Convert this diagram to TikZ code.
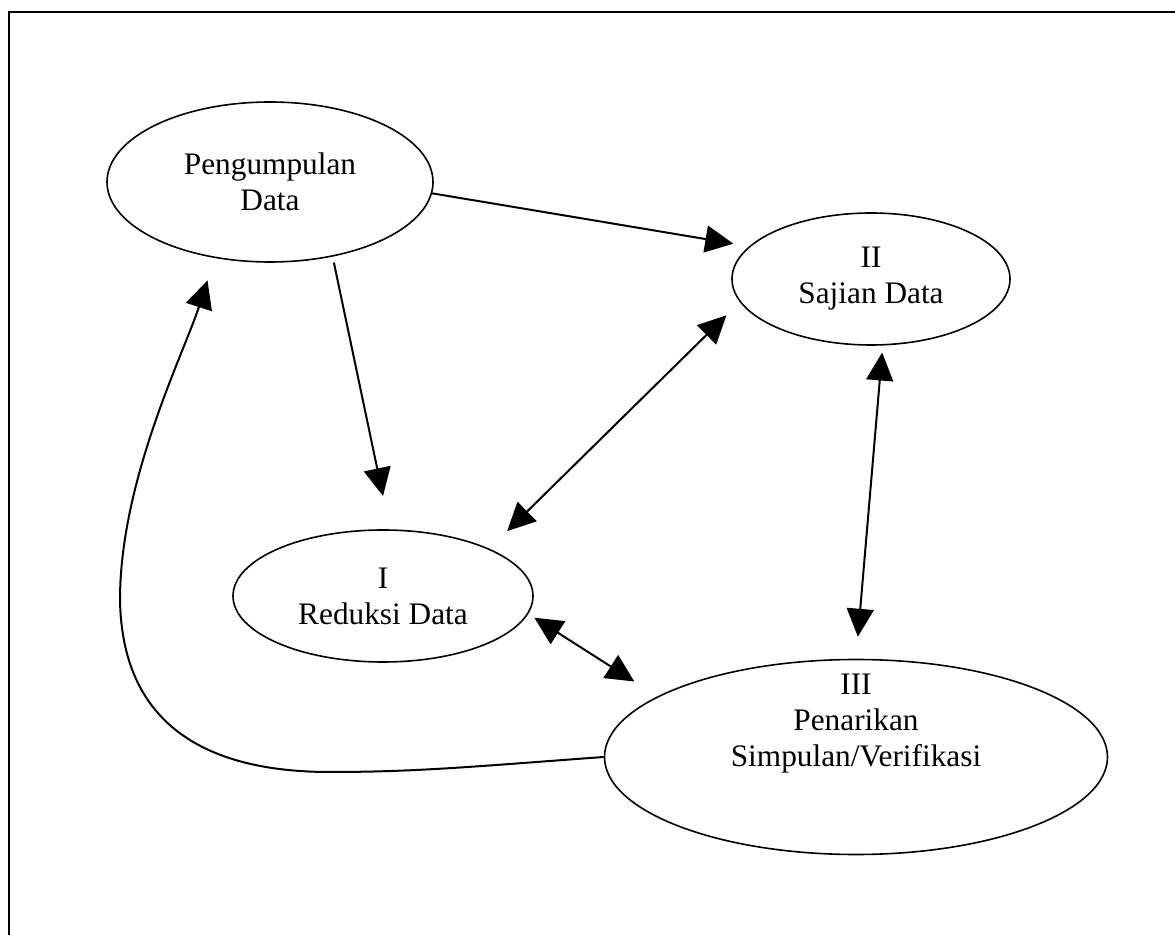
\documentclass[tikz,border=0pt]{standalone}
\usepackage{fontspec}
\setmainfont{Liberation Serif}
\usetikzlibrary{arrows.meta,shapes.geometric}

\begin{document}
\begin{tikzpicture}[x=0.5pt,y=-0.5pt,
    font=\fontsize{15.65pt}{18pt}\selectfont,
    stage/.style={draw, ellipse, line width=0.8pt, inner sep=0pt, align=center},
    link/.style={line width=1pt, -{Triangle[length=14pt,width=13.5pt]}},
    both/.style={line width=1pt, {Triangle[length=14pt,width=13.5pt]}-{Triangle[length=14pt,width=13.5pt]}}]

\useasboundingbox (0,0) rectangle (1175,935);
\clip (0,0) rectangle (1175,935);

% page frame
\draw[line width=1.3pt] (9,1000) -- (9,12) -- (1250,12);

% the four stages
\node[stage, minimum width=163pt, minimum height=80pt] (pd) at (270,182) {Pengumpulan\\Data};
\node[stage, minimum width=139pt, minimum height=66pt] (sd) at (871,279) {II\\Sajian Data};
\node[stage, minimum width=150pt, minimum height=66pt] (rd) at (383,596) {I\\Reduksi Data};
\node[stage, minimum width=251.5pt, minimum height=97.5pt,
      label={[align=center, yshift=16.5pt]center:III\\Penarikan\\Simpulan/Verifikasi}] (ps) at (856,757) {};

% one-way arrows
\draw[link, shorten >=8pt] (pd.-4) -- (sd.165);
\draw[link, shorten <=3pt, shorten >=17pt] (pd.-50) -- (rd.84);

% two-way arrows
\draw[both, shorten <=12.5pt, shorten >=9.4pt] (rd.24) -- (sd.-170);
\draw[both, shorten <=3.5pt, shorten >=11pt] (sd.-80) -- (ps.90);
\draw[both, shorten <=3.6pt, shorten >=13.75pt] (rd.-7) -- (ps.163);

% loop back to data collection
\draw[link, shorten >=11.75pt] (ps.180) .. controls (480,766) and (420,772) .. (330,772)
    .. controls (200,772) and (122,720) .. (120,600)
    .. controls (120,480) and (184,353) .. (pd.234);

\end{tikzpicture}
\end{document}
